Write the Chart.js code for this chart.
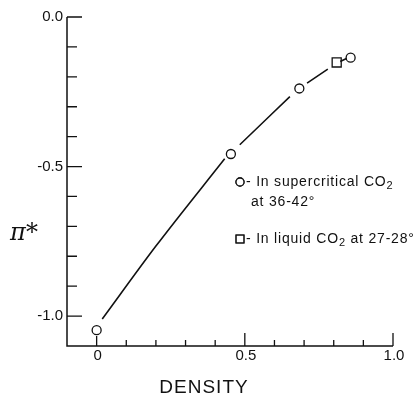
<!DOCTYPE html>
<html>
<head>
<meta charset="utf-8">
<script src="https://cdn.jsdelivr.net/npm/chart.js@4/dist/chart.umd.min.js"></script>
<style>
    html, body { margin: 0; padding: 0; background: #fff; }
    #wrap { width: 414px; height: 397px; }
</style>
</head>
<body>
<div id="wrap"><canvas id="chart" width="414" height="397"></canvas></div>
<script>
// data
const superDensity = [0, 0.453, 0.684, 0.857];
const superPi = [-1.047, -0.458, -0.239, -0.136];
const liquidDensity = [0.81];
const liquidPi = [-0.152];

// hand drawn curve, broken where it meets the markers (null = gap)
const curveDensity = [0.019, 0.20, 0.432, 0.46, 0.483, 0.652, 0.68, 0.71, 0.78, 0.80, 0.822, 0.843];
const curvePi = [-1.01, -0.766, -0.474, null, -0.427, -0.266, null, -0.221, -0.174, null, -0.149, -0.139];

const xTicks = [0, 0.1, 0.2, 0.3, 0.4, 0.5, 0.6, 0.7, 0.8, 0.9, 1.0];
const xTickLabels = ['0', '0.5', '1.0'];
const xLabelValues = [0, 0.5, 1.0];
const yTicks = [0, -0.1, -0.2, -0.3, -0.4, -0.5, -0.6, -0.7, -0.8, -0.9, -1.0];
const yTickLabels = ['0.0', '-0.5', '-1.0'];
const yLabelValues = [0, -0.5, -1.0];

function pairs(xs, ys) {
    return xs.map((x, i) => ({ x: x, y: ys[i] }));
}

function isMajor(v) {
    return Math.abs(v * 2 - Math.round(v * 2)) < 1e-6;
}

const axesPlugin = {
    id: 'axesPlugin',
    afterDraw(chart) {
        const ctx = chart.ctx;
        const xs = chart.scales.x;
        const ys = chart.scales.y;
        const x0 = xs.getPixelForValue(xs.min);
        const y0 = ys.getPixelForValue(ys.min);
        ctx.save();
        ctx.strokeStyle = '#111';
        ctx.fillStyle = '#111';

        // axis lines
        ctx.lineWidth = 1.5;
        ctx.beginPath();
        ctx.moveTo(x0, ys.getPixelForValue(0));
        ctx.lineTo(x0, y0);
        ctx.lineTo(xs.getPixelForValue(1.0), y0);
        ctx.stroke();

        // inward ticks
        ctx.lineWidth = 1.3;
        ctx.beginPath();
        for (const v of yTicks) {
            const py = ys.getPixelForValue(v);
            const len = isMajor(v) ? 15 : 10;
            ctx.moveTo(x0, py);
            ctx.lineTo(x0 + len, py);
        }
        for (const v of xTicks) {
            const px = xs.getPixelForValue(v);
            const len = v === 0 ? 10 : (isMajor(v) ? 13 : 6);
            ctx.moveTo(px, y0);
            ctx.lineTo(px, y0 - len);
        }
        ctx.stroke();

        // tick labels
        ctx.font = '15px "Liberation Sans", Arial, sans-serif';
        ctx.textAlign = 'right';
        ctx.textBaseline = 'middle';
        yTickLabels.forEach((t, i) => {
            ctx.fillText(t, x0 - 4, ys.getPixelForValue(yLabelValues[i]));
        });
        ctx.textAlign = 'center';
        xTickLabels.forEach((t, i) => {
            ctx.fillText(t, xs.getPixelForValue(xLabelValues[i]) + 1, y0 + 10);
        });

        // axis titles
        ctx.font = '19px "Liberation Sans", Arial, sans-serif';
        ctx.letterSpacing = '1px';
        ctx.fillText('DENSITY', 204, 388);
        ctx.letterSpacing = '0px';
        ctx.font = 'italic 24px "DejaVu Serif", serif';
        ctx.fillText('\u03c0*', 24, 234);

        // legend
        ctx.textAlign = 'left';
        ctx.letterSpacing = '0.8px';
        const marker = (style, px, py, r) => {
            ctx.lineWidth = 1.3;
            ctx.fillStyle = '#fff';
            Chart.helpers.drawPoint(ctx, { pointStyle: style, radius: r, borderWidth: 1.3 }, px, py);
            ctx.fill();
            ctx.stroke();
            ctx.fillStyle = '#111';
        };
        const withSub = (parts, px, py) => {
            let cx = px;
            for (const p of parts) {
                if (p.sub) {
                    ctx.font = '11px "Liberation Sans", Arial, sans-serif';
                    ctx.fillText(p.t, cx, py + 4);
                } else {
                    ctx.font = '14px "Liberation Sans", Arial, sans-serif';
                    ctx.fillText(p.t, cx, py);
                }
                cx += ctx.measureText(p.t).width;
            }
        };
        marker('circle', 240, 182, 4);
        withSub([{ t: '- In supercritical CO' }, { t: '2', sub: true }], 246, 182);
        withSub([{ t: 'at 36-42\u00b0' }], 251, 202);
        marker('rect', 240, 239, 5.5);
        withSub([{ t: '- In liquid CO' }, { t: '2', sub: true }, { t: ' at 27-28\u00b0' }], 246, 239);

        ctx.restore();
    }
};

document.addEventListener('DOMContentLoaded', function () {
    const ctx = document.getElementById('chart').getContext('2d');
    new Chart(ctx, {
        type: 'scatter',
        data: {
            datasets: [{
                label: 'curve',
                data: pairs(curveDensity, curvePi),
                showLine: true,
                spanGaps: false,
                borderColor: '#111',
                borderWidth: 1.6,
                cubicInterpolationMode: 'monotone',
                pointRadius: 0
            }, {
                label: 'In supercritical CO2 at 36-42°',
                data: pairs(superDensity, superPi),
                pointStyle: 'circle',
                pointRadius: 4.5,
                borderWidth: 1.3,
                borderColor: '#111',
                backgroundColor: '#fff'
            }, {
                label: 'In liquid CO2 at 27-28°',
                data: pairs(liquidDensity, liquidPi),
                pointStyle: 'rect',
                pointRadius: 6.4,
                borderWidth: 1.3,
                borderColor: '#111',
                backgroundColor: '#fff'
            }]
        },
        options: {
            responsive: false,
            animation: false,
            layout: { padding: { left: 67, right: 21, top: 17, bottom: 51 } },
            plugins: {
                legend: { display: false },
                tooltip: { enabled: false }
            },
            scales: {
                x: { type: 'linear', min: -0.1, max: 1.0, display: false },
                y: { type: 'linear', min: -1.1, max: 0, display: false }
            }
        },
        plugins: [axesPlugin]
    });
});
</script>
</body>
</html>
